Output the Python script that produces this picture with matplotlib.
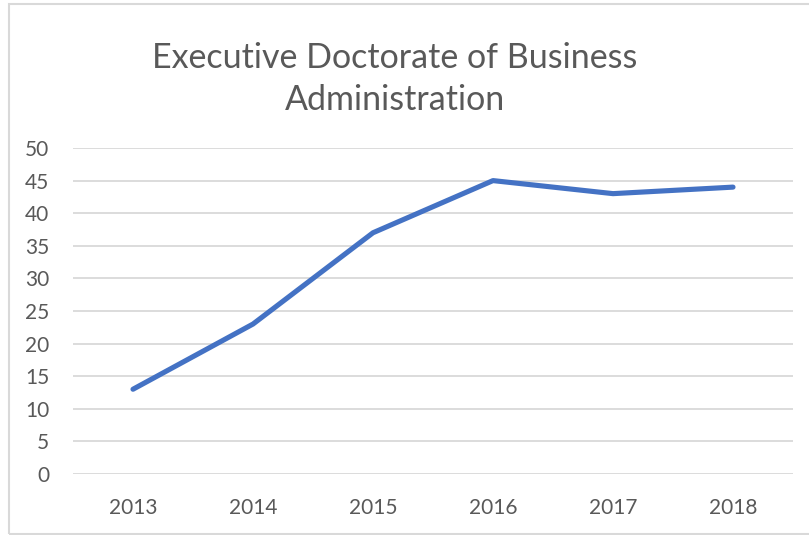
import matplotlib
matplotlib.use("Agg")
import matplotlib.pyplot as plt
from matplotlib.patches import Rectangle

years = ["2013", "2014", "2015", "2016", "2017", "2018"]
values = [13, 23, 37, 45, 43, 44]
title = "Executive Doctorate of Business\nAdministration"

plt.rcParams['font.family'] = ['Lato', 'DejaVu Sans']
W, H = 809, 535
fig = plt.figure(figsize=(W/100, H/100), dpi=100)
fig.patches.append(Rectangle((9/W, 1 - 534/H), 1, (534-4)/H, transform=fig.transFigure,
                             fill=False, edgecolor='#d9d9d9', linewidth=1.5))

ax = fig.add_axes([73/W, 1 - 474/H, 720/W, (474-148)/H])
x = range(len(years))
ax.plot(x, values, color='#4472C4', linewidth=3.7, solid_capstyle='round', solid_joinstyle='round')
ax.set_xlim(-0.5, len(years) - 0.5)
ax.set_ylim(0, 50)
ax.set_yticks(range(0, 51, 5))
ax.set_xticks(list(x))
ax.set_xticklabels(years)
ax.grid(axis='y', color='#d9d9d9', linewidth=1.3)
ax.set_axisbelow(True)
for s in ax.spines.values():
    s.set_visible(False)
ax.tick_params(axis='both', length=0, labelsize=15, colors='#595959')
ax.tick_params(axis='y', pad=17)
ax.tick_params(axis='x', pad=17)
fig.text(395/W, 1 - 79/H, title, ha='center', va='center', fontsize=24.5, color='#595959',
         linespacing=1.42)
fig.savefig("out.png", dpi=100)
